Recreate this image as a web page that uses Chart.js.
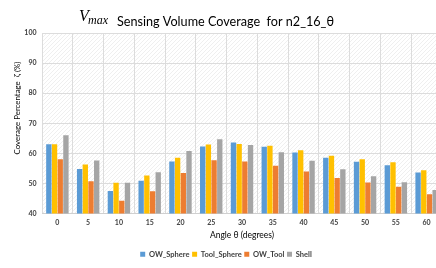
<!DOCTYPE html>
<html>
<head>
<meta charset="utf-8">
<script src="https://cdn.jsdelivr.net/npm/chart.js@4.4.1/dist/chart.umd.min.js"></script>
<style>
  html, body { margin: 0; padding: 0; background: #ffffff; overflow: hidden; }
  #wrap { width: 436px; height: 268px; overflow: hidden; position: relative; }
  #c { display: block; }
</style>
</head>
<body>
<div id="wrap"><canvas id="c" width="444" height="268"></canvas></div>
<script>
const categories = ['0','5','10','15','20','25','30','35','40','45','50','55','60'];
const owSphere   = [63.0, 54.8, 47.5, 50.9, 57.3, 62.3, 63.6, 62.2, 60.3, 58.5, 57.2, 56.0, 53.6];
const toolSphere = [63.0, 56.3, 50.2, 52.6, 58.5, 62.9, 63.1, 62.5, 61.0, 59.2, 58.0, 57.0, 54.4];
const owTool     = [58.0, 50.7, 44.2, 47.4, 53.5, 57.7, 57.3, 55.9, 54.0, 51.8, 50.3, 48.9, 46.4];
const shell      = [66.0, 57.6, 50.2, 53.7, 60.8, 64.7, 62.8, 60.4, 57.5, 54.7, 52.4, 50.4, 47.8];
const seriesNames = ['OW_Sphere', 'Tool_Sphere', 'OW_Tool', 'Shell'];
const titleMath = 'V';
const titleSub = 'max';
const titleText = 'Sensing Volume Coverage  for n2_16_\u03B8';
const yTitle = 'Coverage Percentage  \u03B6 (%)';
const xTitle = 'Angle \u03B8 (degrees)';

const SANS = 'Lato, "Open Sans", sans-serif';
const SERIF = '"Liberation Serif", "DejaVu Serif", serif';

function makePattern(ctx) {
  const p = document.createElement('canvas');
  p.width = 4; p.height = 4;
  const pc = p.getContext('2d');
  pc.fillStyle = '#ffffff';
  pc.fillRect(0, 0, 4, 4);
  pc.strokeStyle = '#efefef';
  pc.lineWidth = 1;
  pc.beginPath();
  pc.moveTo(0, 4); pc.lineTo(4, 0);
  pc.moveTo(-1, 1); pc.lineTo(1, -1);
  pc.moveTo(3, 5); pc.lineTo(5, 3);
  pc.stroke();
  return ctx.createPattern(p, 'repeat');
}

const bgPlugin = {
  id: 'bgPlugin',
  beforeDraw(chart) {
    const {ctx, chartArea: a} = chart;
    ctx.save();
    ctx.fillStyle = makePattern(ctx);
    ctx.fillRect(a.left, a.top, a.right - a.left, a.bottom - a.top);
    ctx.restore();
  }
};

function fitFont(ctx, text, weight, family, targetWidth) {
  ctx.font = weight + ' 10px ' + family;
  return 10 * targetWidth / ctx.measureText(text).width;
}

const textPlugin = {
  id: 'textPlugin',
  afterDraw(chart) {
    const ctx = chart.ctx;
    ctx.save();
    ctx.fillStyle = '#000000';
    ctx.textBaseline = 'alphabetic';
    ctx.textAlign = 'left';
    ctx.font = 'italic 16px ' + SERIF;
    ctx.fillText(titleMath, 79, 21);
    ctx.font = 'italic 12px ' + SERIF;
    ctx.fillText(titleSub, 88, 24);
    const ts = fitFont(ctx, titleText, 'normal', SANS, 217);
    ctx.font = 'normal ' + ts.toFixed(2) + 'px ' + SANS;
    ctx.fillText(titleText, 117, 26);
    const ys = fitFont(ctx, yTitle, 'normal', SANS, 93);
    ctx.translate(17, 108);
    ctx.rotate(-Math.PI / 2);
    ctx.font = 'normal ' + ys.toFixed(2) + 'px ' + SANS;
    ctx.textAlign = 'center';
    ctx.textBaseline = 'middle';
    ctx.fillText(yTitle, 0, 0);
    ctx.restore();
  }
};

const colors = ['#5B9BD5', '#FFC000', '#ED7D31', '#A5A5A5'];
const seriesData = [owSphere, toolSphere, owTool, shell];

new Chart(document.getElementById('c'), {
  type: 'bar',
  data: {
    labels: categories,
    datasets: seriesNames.map((n, i) => ({
      label: n,
      data: seriesData[i],
      backgroundColor: colors[i],
      borderWidth: 0,
      categoryPercentage: 0.74,
      barPercentage: 0.94
    }))
  },
  options: {
    responsive: false,
    animation: false,
    devicePixelRatio: 1,
    layout: { padding: { top: 33, left: 10, right: 2, bottom: 0 } },
    plugins: {
      title: { display: false },
      tooltip: { enabled: false },
      legend: {
        position: 'bottom',
        labels: {
          boxWidth: 5,
          boxHeight: 5,
          padding: 2.6,
          color: '#404040',
          font: { family: SANS, size: 7.5, weight: 'bold' }
        }
      }
    },
    scales: {
      x: {
        grid: { color: '#dcdcdc', lineWidth: 1, drawTicks: false, offset: true },
        border: { color: '#d0d0d0' },
        ticks: { color: '#404040', padding: 5, font: { family: SANS, size: 7, weight: 'bold' } },
        title: {
          display: true, text: xTitle, color: '#000000',
          font: { family: SANS, size: 8.5, weight: 'normal' },
          padding: { top: 0, bottom: 7.6 }
        },
        afterFit(scale) { scale.height = 34.4; }
      },
      y: {
        min: 40, max: 100,
        grid: { color: '#dcdcdc', lineWidth: 1, drawTicks: false },
        border: { display: false },
        ticks: { stepSize: 10, color: '#404040', padding: 5.5, font: { family: SANS, size: 7, weight: 'bold' } },
        afterFit(scale) { scale.width = 32; }
      }
    }
  },
  plugins: [bgPlugin, textPlugin]
});
</script>
</body>
</html>
